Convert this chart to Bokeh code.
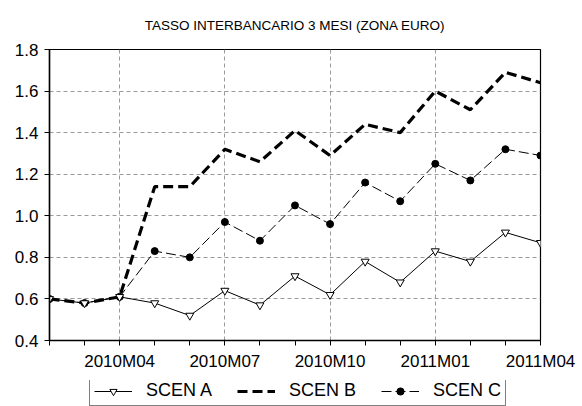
from bokeh.plotting import figure
from bokeh.layouts import column
from bokeh.models import ColumnDataSource, FixedTicker, Legend, LegendItem, Range1d
from bokeh.embed import file_html
from bokeh.resources import INLINE

months = ["2010M02", "2010M03", "2010M04", "2010M05", "2010M06", "2010M07", "2010M08",
          "2010M09", "2010M10", "2010M11", "2010M12", "2011M01", "2011M02", "2011M03", "2011M04"]
scen_a = [0.60, 0.58, 0.61, 0.58, 0.52, 0.64, 0.57, 0.71, 0.62, 0.78, 0.68, 0.83, 0.78, 0.92, 0.87]
scen_b = [0.60, 0.58, 0.61, 1.14, 1.14, 1.32, 1.26, 1.41, 1.29, 1.44, 1.40, 1.60, 1.51, 1.69, 1.64]
scen_c = [0.60, 0.58, 0.61, 0.83, 0.80, 0.97, 0.88, 1.05, 0.96, 1.16, 1.07, 1.25, 1.17, 1.32, 1.29]
tick_labels = ["2010M04", "2010M07", "2010M10", "2011M01", "2011M04"]
y_ticks = [0.4, 0.6, 0.8, 1.0, 1.2, 1.4, 1.6, 1.8]
series_names = ["SCEN A", "SCEN B", "SCEN C"]
title_text = "TASSO INTERBANCARIO 3 MESI (ZONA EURO)"

x = list(range(len(months)))
src = ColumnDataSource(dict(x=x, a=scen_a, b=scen_b, c=scen_c))

FONT = "Liberation Sans"


def add_series(fig):
    lb = fig.line("x", "b", source=src, line_color="black", line_width=3.2, line_dash="10 5")
    lc = fig.line("x", "c", source=src, line_color="black", line_width=1, line_dash="10 4")
    mc = fig.scatter("x", "c", source=src, marker="circle", size=7, fill_color="black", line_color="black")
    la = fig.line("x", "a", source=src, line_color="black", line_width=1)
    ma = fig.scatter("x", "a", source=src, marker="inverted_triangle", size=8,
                     fill_color="white", line_color="black", line_width=1)
    return la, ma, lb, lc, mc


p = figure(width=582, height=380, output_backend="svg", toolbar_location=None,
           x_range=(0, len(months) - 1), y_range=(0.4, 1.8),
           min_border_left=49, min_border_right=42, min_border_top=49, min_border_bottom=40,
           title=title_text)
p.title.align = "center"
p.title.vertical_align = "top"
p.title.text_font = FONT
p.title.text_font_size = "13.5px"
p.title.text_font_style = "normal"
p.title.text_color = "black"
p.title.standoff = 30

p.outline_line_color = "black"
p.outline_line_width = 1.2
p.background_fill_color = "white"
p.border_fill_color = "white"

# axes
p.xaxis.ticker = FixedTicker(ticks=x)
p.xaxis.major_label_overrides = {i: (m if m in tick_labels else "") for i, m in enumerate(months)}
p.yaxis.ticker = FixedTicker(ticks=y_ticks)
p.yaxis.major_label_overrides = {v: "%.1f" % v for v in y_ticks}
for ax in (p.xaxis[0], p.yaxis[0]):
    ax.axis_line_color = "black"
    ax.axis_line_width = 1.5
    ax.major_tick_line_color = "black"
    ax.major_tick_out = 5
    ax.major_tick_in = 0
    ax.minor_tick_line_color = None
    ax.major_label_text_font = FONT
    ax.major_label_text_font_size = "17px"
    ax.major_label_text_color = "black"
    ax.major_label_standoff = 6

# grids
p.xgrid.ticker = FixedTicker(ticks=[2, 5, 8, 11])
p.ygrid.ticker = FixedTicker(ticks=[0.6, 0.8, 1.0, 1.2, 1.4, 1.6])
for g in (p.xgrid[0], p.ygrid[0]):
    g.grid_line_color = "#9a9a9a"
    g.grid_line_dash = "4 3"
    g.grid_line_width = 1

add_series(p)

# legend strip: same series, drawn in a small figure whose view is off the data,
# so that only the legend is visible
lf = figure(width=582, height=26, output_backend="svg", toolbar_location=None,
            x_range=Range1d(100, 101), y_range=Range1d(100, 101),
            x_axis_location=None, y_axis_location=None,
            min_border_left=0, min_border_right=0, min_border_top=0, min_border_bottom=0)
lf.outline_line_color = None
lf.xgrid.visible = False
lf.ygrid.visible = False
la, ma, lb, lc, mc = add_series(lf)

legend = Legend(items=[
    LegendItem(label=series_names[0], renderers=[la, ma]),
    LegendItem(label=series_names[1], renderers=[lb]),
    LegendItem(label=series_names[2], renderers=[lc, mc]),
], orientation="horizontal", location=(40, 0))
legend.border_line_color = "black"
legend.border_line_width = 1
legend.background_fill_alpha = 1
legend.label_text_font = FONT
legend.label_text_font_size = "18px"
legend.label_text_color = "black"
legend.glyph_width = 38
legend.glyph_height = 18
legend.label_height = 18
legend.label_standoff = 14
legend.spacing = 25
legend.padding = 4
legend.margin = 0
lf.add_layout(legend, "center")

layout = column(p, lf, spacing=0)
open("out.html", "w").write(file_html(layout, INLINE))
